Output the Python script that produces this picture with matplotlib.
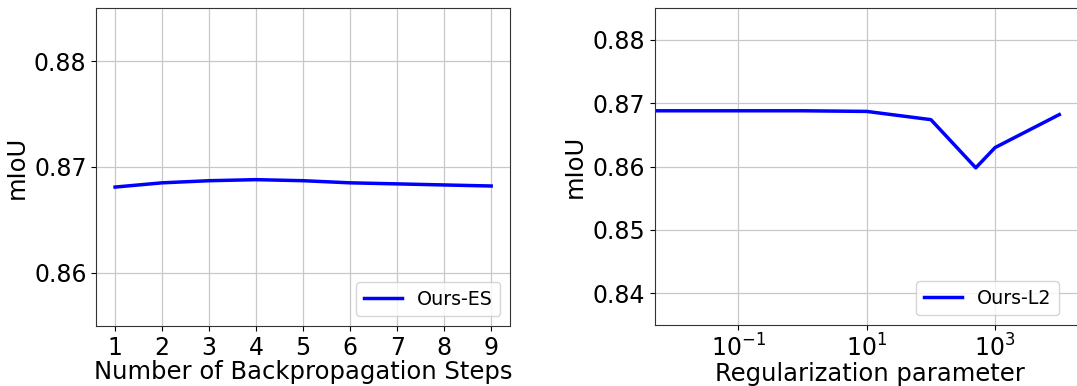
import numpy as np
import matplotlib
matplotlib.use('Agg')
from matplotlib import pyplot as plt
from matplotlib.ticker import NullLocator, FixedLocator

# left panel: number of backpropagation steps
steps = [1, 2, 3, 4, 5, 6, 7, 8, 9]
miou_es = [0.8681, 0.8685, 0.8687, 0.8688, 0.8687, 0.8685, 0.8684, 0.8683, 0.8682]

# right panel: regularization parameter
reg = [0.005, 0.01, 0.1, 1, 10, 100, 500, 1000, 10000]
miou_l2 = [0.8688, 0.8688, 0.8688, 0.8688, 0.8687, 0.8674, 0.8598, 0.8630, 0.8682]

fig = plt.figure(figsize=(10.77, 3.86), dpi=100)

ax1 = fig.add_axes([0.0894, 0.156, 0.3841, 0.823])
ax1.plot(steps, miou_es, color='blue', lw=2.5, label='Ours-ES')
ax1.set_ylim(0.855, 0.885)
ax1.set_yticks([0.86, 0.87, 0.88])
ax1.set_xticks(steps)
ax1.grid(True, color='#c8c8c8', lw=0.9)
ax1.set_xlabel('Number of Backpropagation Steps', fontsize=17.5, labelpad=0)
ax1.set_ylabel('mIoU', fontsize=17.5)
ax1.tick_params(labelsize=17)
ax1.legend(loc='lower right', fontsize=13.7)

ax2 = fig.add_axes([0.608, 0.158, 0.4, 0.821])
ax2.plot(reg, miou_l2, color='blue', lw=2.5, label='Ours-L2')
ax2.set_xscale('log')
ax2.set_xlim(0.005, 10**4.41)
ax2.set_ylim(0.835, 0.885)
ax2.xaxis.set_major_locator(FixedLocator([0.1, 10, 1000]))
ax2.xaxis.set_minor_locator(NullLocator())
ax2.set_yticks([0.84, 0.85, 0.86, 0.87, 0.88])
ax2.grid(True, color='#c8c8c8', lw=0.9)
ax2.set_xlabel('Regularization parameter', fontsize=17.5, labelpad=0)
ax2.set_ylabel('mIoU', fontsize=17.5)
ax2.tick_params(labelsize=17)
ax2.legend(loc='lower right', fontsize=13.7, bbox_to_anchor=(0.96, 0.0))

for ax in (ax1, ax2):
    for s in ax.spines.values():
        s.set_color('#333333')

fig.savefig('out.png', dpi=100)
